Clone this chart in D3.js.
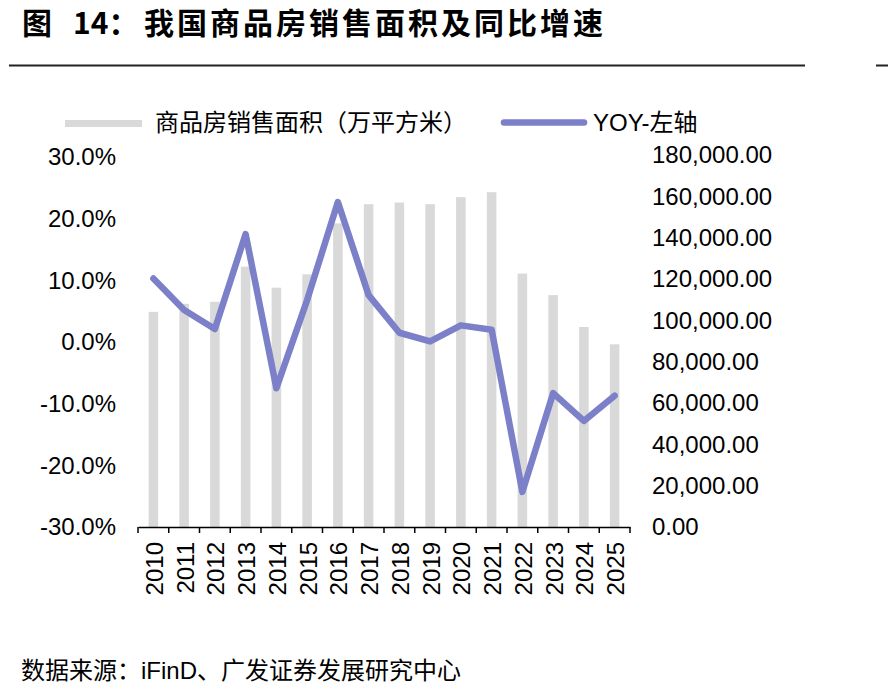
<!DOCTYPE html>
<html>
<head>
<meta charset="utf-8">
<script src="https://cdn.jsdelivr.net/npm/d3@7"></script>
<style>
  body { margin: 0; background: #fff; }
  svg text { font-family: "Liberation Sans", Arial, "Noto Sans CJK SC", sans-serif; fill: #000; }
</style>
</head>
<body>
<svg id="chart" width="888" height="700"></svg>
<script>
// data
const years = ['2010', '2011', '2012', '2013', '2014', '2015', '2016', '2017',
               '2018', '2019', '2020', '2021', '2022', '2023', '2024', '2025'];
const salesArea = [104100, 108000, 109000, 126000, 115800, 122250, 146900, 156200,
                   157000, 156200, 159600, 162000, 122600, 112200, 96800, 88400];
const yoy = [10.3, 5.2, 2.1, 17.5, -7.5, 6.8, 22.7, 7.6,
             1.5, 0.1, 2.7, 2.0, -24.3, -8.3, -12.8, -8.7];
const leftTicks = [30, 20, 10, 0, -10, -20, -30];
const rightTicks = [180000, 160000, 140000, 120000, 100000, 80000, 60000, 40000, 20000, 0];

const barColor = '#d9d9d9';
const lineColor = '#7b80c8';

const svg = d3.select('#chart');

// title + rules
const title = svg.append('text')
    .attr('y', 34)
    .style('font-family', '"Noto Sans CJK SC", sans-serif')
    .style('font-weight', 'bold')
    .style('font-size', '30px');
title.append('tspan').attr('x', 22).text('图');
title.append('tspan').attr('x', 73).text('14：');
title.append('tspan').attr('x', 144).style('letter-spacing', '3px').text('我国商品房销售面积及同比增速');

svg.append('line').attr('x1', 9).attr('x2', 805).attr('y1', 65.5).attr('y2', 65.5)
    .attr('stroke', '#222').attr('stroke-width', 2);
svg.append('line').attr('x1', 876).attr('x2', 888).attr('y1', 65.5).attr('y2', 65.5)
    .attr('stroke', '#222').attr('stroke-width', 2);

// scales
const x = d3.scaleBand()
    .domain(years)
    .range([138, 630])
    .paddingInner(0.69)
    .paddingOuter(0.345);

const xc = d => x(d) + x.bandwidth() / 2;

const yLeft = d3.scaleLinear().domain([-30, 30]).range([527, 157]);
const yRight = d3.scaleLinear().domain([0, 180000]).range([527, 155]);

// bars
svg.append('g')
    .selectAll('rect')
    .data(salesArea)
    .enter().append('rect')
    .attr('x', (d, i) => x(years[i]))
    .attr('y', d => yRight(d))
    .attr('width', x.bandwidth())
    .attr('height', d => yRight(0) - yRight(d))
    .attr('fill', barColor);

// x axis
const xAxis = svg.append('g')
    .attr('transform', `translate(0,${yRight(0)})`)
    .call(d3.axisBottom(x.copy().paddingInner(0).paddingOuter(0)).tickSize(0).tickFormat(''));
xAxis.select('.domain').attr('stroke', '#000').attr('stroke-width', 1.5);
xAxis.selectAll('.tick').remove();

const edges = years.map(d => x(d) - x.step() * x.paddingInner() / 2).concat([630]);
xAxis.selectAll('line.tk')
    .data(edges)
    .enter().append('line')
    .attr('class', 'tk')
    .attr('x1', d => d).attr('x2', d => d)
    .attr('y1', 0).attr('y2', 6)
    .attr('stroke', '#000').attr('stroke-width', 1.5);

svg.append('g')
    .selectAll('text')
    .data(years)
    .enter().append('text')
    .attr('transform', d => `translate(${xc(d) + 1},542) rotate(-90)`)
    .attr('text-anchor', 'end')
    .attr('dy', '0.35em')
    .style('font-size', '24px')
    .text(d => d);

// left axis labels
svg.append('g')
    .selectAll('text')
    .data(leftTicks)
    .enter().append('text')
    .attr('x', 116)
    .attr('y', d => yLeft(d))
    .attr('dy', '0.35em')
    .attr('text-anchor', 'end')
    .style('font-size', '24px')
    .text(d => d.toFixed(1) + '%');

// right axis labels
const fmtRight = d3.format(',.2f');
svg.append('g')
    .selectAll('text')
    .data(rightTicks)
    .enter().append('text')
    .attr('x', 652)
    .attr('y', d => yRight(d))
    .attr('dy', '0.35em')
    .style('font-size', '24px')
    .text(d => fmtRight(d));

// yoy line
const line = d3.line()
    .x((d, i) => xc(years[i]))
    .y(d => yLeft(d));

svg.append('path')
    .datum(yoy)
    .attr('d', line)
    .attr('fill', 'none')
    .attr('stroke', lineColor)
    .attr('stroke-width', 6.5)
    .attr('stroke-linejoin', 'round')
    .attr('stroke-linecap', 'round');

// legend
svg.append('rect')
    .attr('x', 65).attr('y', 120).attr('width', 77).attr('height', 7)
    .attr('fill', barColor);
svg.append('text')
    .attr('x', 155).attr('y', 131)
    .style('font-size', '24px')
    .text('商品房销售面积（万平方米）');

svg.append('line')
    .attr('x1', 504).attr('x2', 584).attr('y1', 122.5).attr('y2', 122.5)
    .attr('stroke', lineColor).attr('stroke-width', 6.5)
    .attr('stroke-linecap', 'round');
svg.append('text')
    .attr('x', 593).attr('y', 131)
    .style('font-size', '24px')
    .text('YOY-左轴');

// source
svg.append('text')
    .attr('x', 21).attr('y', 679)
    .style('font-size', '24px')
    .text('数据来源：iFinD、广发证券发展研究中心');
</script>
</body>
</html>
